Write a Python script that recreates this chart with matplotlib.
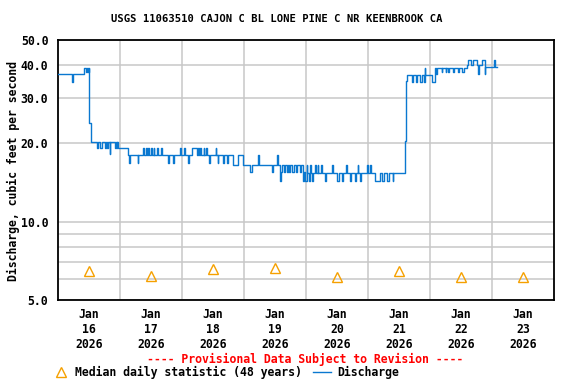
import matplotlib
matplotlib.use("Agg")
import matplotlib.pyplot as plt
import matplotlib.dates as mdates
from matplotlib.lines import Line2D
from matplotlib.ticker import FixedLocator, NullFormatter, FixedFormatter
import numpy as np
import pandas as pd

# ---- data ----
start = pd.Timestamp("2026-01-16 00:00")
# discharge step changes: hours after start, value (cfs)
q_hours = [0, 5.4, 5.7, 10.0, 10.9, 11.2, 11.6, 11.9, 12.0, 12.7, 15.2, 15.5, 16.3, 16.9,
           18.2, 18.5, 19.0, 19.4, 20.0, 20.3, 22.0, 22.3, 22.8, 23.0, 23.3,
           27.1, 27.6, 27.9, 30.8, 31.1, 33.0, 33.3, 34.0, 34.3, 34.8, 35.3, 36.0, 36.5,
           37.0, 37.3, 38.3, 38.8, 39.7, 40.1, 42.6, 42.9, 44.5, 44.8, 47.4, 47.8, 48.6,
           49.0, 50.3, 50.6, 51.7, 53.8, 54.0, 54.6, 55.0, 55.3, 56.4, 56.6, 57.2, 57.5,
           58.5, 58.8, 61.0, 61.3, 61.8, 62.1, 64.0, 64.3, 65.4, 65.7, 67.6, 69.5, 71.6,
           74.5, 75.0, 77.4, 77.7, 83.0, 83.4, 84.8, 85.1, 85.8, 86.2, 86.7, 87.5, 87.8,
           88.6, 89.0, 89.5, 89.8, 90.5, 91.2, 92.3, 92.7, 93.5, 94.0, 95.0, 95.4, 95.8,
           96.2, 96.5, 97.2, 97.5, 98.0, 98.4, 98.8, 99.5, 99.8, 100.5, 100.8, 101.7,
           102.0, 103.5, 103.8, 106.0, 106.3, 108.0, 108.8, 109.8, 110.3, 111.5, 111.8,
           113.0, 113.3, 114.8, 115.2, 116.0, 116.3, 117.0, 117.3, 119.5, 120.0, 120.8,
           121.1, 122.7, 124.6, 125.5, 126.0, 127.3, 128.2, 129.5, 129.8,
           134.3, 134.7, 135.2, 137.0, 137.4, 138.4, 138.8, 140.3, 140.8, 141.6, 141.9,
           142.2, 144.8, 146.0, 146.4, 146.8, 148.5, 148.8, 150.0, 150.3, 151.0, 151.4,
           152.8, 153.3, 155.0, 155.4, 156.4, 157.0, 158.2, 158.8, 159.7, 160.7, 162.0,
           162.5, 162.8, 164.0, 165.1, 165.4, 168.8, 169.0, 169.9]
q_values = [37.0, 34.5, 37.0, 39.0, 37.8, 39.0, 37.8, 39.0, 24.0, 20.3, 19.2, 20.3, 19.2, 20.3,
            19.2, 20.3, 19.2, 20.3, 18.2, 20.3, 19.2, 20.3, 19.2, 20.3, 19.2,
            18.1, 16.8, 18.1, 16.8, 18.1, 19.2, 18.1, 19.2, 18.1, 19.2, 18.1, 19.2, 18.1,
            19.2, 18.1, 19.2, 18.1, 19.2, 18.1, 16.8, 18.1, 16.8, 18.1, 19.2, 18.1, 19.2,
            18.1, 16.8, 18.1, 19.2, 18.1, 19.2, 18.1, 19.2, 18.1, 19.2, 18.1, 19.2, 18.1,
            16.8, 18.1, 19.2, 18.1, 16.8, 18.1, 16.8, 18.1, 16.8, 18.1, 16.6, 18.1, 16.6,
            15.6, 16.6, 18.1, 16.6, 15.6, 16.6, 18.1, 16.6, 14.3, 15.6, 16.6, 15.6, 16.6,
            15.6, 16.6, 15.6, 16.6, 15.6, 16.6, 15.6, 16.6, 15.6, 16.6, 14.3, 15.6, 14.3,
            16.6, 15.4, 14.3, 16.6, 15.4, 14.3, 15.4, 16.6, 15.4, 16.6, 15.4, 16.6,
            15.4, 14.3, 15.4, 16.6, 15.4, 14.3, 15.4, 14.3, 15.4, 16.6, 15.4,
            14.3, 15.4, 14.3, 15.4, 16.6, 15.4, 14.3, 15.4, 16.6, 15.4, 16.6,
            15.4, 14.3, 15.4, 14.3, 15.4, 14.3, 15.4, 14.3, 15.4,
            20.5, 34.8, 36.8, 34.6, 36.8, 34.6, 36.8, 34.6, 36.8, 34.6, 39.0,
            36.8, 34.6, 39.0, 37.0, 39.0, 37.8, 39.0, 37.8, 39.0, 37.8, 39.0,
            37.8, 39.0, 37.8, 39.0, 37.8, 39.0, 40.2, 41.7, 40.2, 41.7, 40.2,
            37.0, 40.2, 41.7, 37.0, 39.2, 41.7, 39.2, 39.2]

median_days = ["2026-01-16 12:00", "2026-01-17 12:00", "2026-01-18 12:00", "2026-01-19 12:00",
               "2026-01-20 12:00", "2026-01-21 12:00", "2026-01-22 12:00", "2026-01-23 12:00"]
median_values = [6.45, 6.2, 6.6, 6.65, 6.15, 6.45, 6.15, 6.15]

y_tick_values = [5, 10, 20, 30, 40, 50]
y_tick_labels = ["5.0", "10.0", "20.0", "30.0", "40.0", "50.0"]
y_minor_grid = [6, 7, 8, 9]
x_tick_labels = ["Jan\n16\n2026", "Jan\n17\n2026", "Jan\n18\n2026", "Jan\n19\n2026",
                 "Jan\n20\n2026", "Jan\n21\n2026", "Jan\n22\n2026", "Jan\n23\n2026"]

# ---- figure ----
FONT = "DejaVu Sans Mono"
fig = plt.figure(figsize=(5.76, 3.84), dpi=100)
ax = fig.add_axes([58/576, 1-300/384, (554-58)/576, (300-40)/384])

times = start + pd.to_timedelta(q_hours, unit="h")
ax.plot(times, q_values, drawstyle="steps-post", color="#0a78d0", lw=1.0, zorder=3)

mt = pd.to_datetime(median_days)
ax.plot(mt, median_values, linestyle="none", marker="^", mfc="none", mec="#f5a000",
        ms=7.5, mew=1.0, zorder=4)

ax.set_yscale("log")
ax.set_ylim(5, 50)
ax.set_xlim(start, start + pd.Timedelta(days=8))

ax.yaxis.set_major_locator(FixedLocator(y_tick_values))
ax.yaxis.set_major_formatter(FixedFormatter(y_tick_labels))
ax.yaxis.set_minor_locator(FixedLocator(y_minor_grid))
ax.yaxis.set_minor_formatter(NullFormatter())

noon = pd.to_datetime(median_days)
mids = [start + pd.Timedelta(days=d) for d in range(1, 8)]
ax.xaxis.set_major_locator(FixedLocator(mdates.date2num(noon)))
ax.xaxis.set_major_formatter(FixedFormatter(x_tick_labels))
ax.xaxis.set_minor_locator(FixedLocator(mdates.date2num(mids)))

gc = "#c8c8c8"
ax.grid(False)
ax.yaxis.grid(True, which="both", color=gc, lw=1.1)
ax.xaxis.grid(True, which="minor", color=gc, lw=1.1)
ax.set_axisbelow(True)

ax.tick_params(axis="both", which="both", length=0)
ax.tick_params(axis="y", pad=7)
ax.tick_params(axis="x", pad=6)
for lab in ax.get_yticklabels() + ax.get_xticklabels():
    lab.set_fontfamily(FONT)
    lab.set_fontweight("bold")
    lab.set_fontsize(8.3)
for lab in ax.get_xticklabels():
    lab.set_linespacing(1.2)

for s in ax.spines.values():
    s.set_color("black")
    s.set_linewidth(1.3)

fig.text(13/576, 1-171/384, "Discharge, cubic feet per second", rotation=90,
         ha="center", va="center", fontfamily=FONT, fontweight="bold", fontsize=8.3)

fig.text(277/576, 1-19/384, "USGS 11063510 CAJON C BL LONE PINE C NR KEENBROOK CA",
         ha="center", va="center", fontfamily=FONT, fontweight="bold", fontsize=7.6)

fig.text(305/576, 1-359/384, "---- Provisional Data Subject to Revision ----",
         ha="center", va="center", color="red", fontfamily=FONT, fontweight="bold",
         fontsize=8.3)

# legend
fig.add_artist(Line2D([60.5/576], [1-371.5/384], transform=fig.transFigure, marker="^",
                      mfc="none", mec="#f5a000", ms=7.5, mew=1.0, linestyle="none"))
fig.text(75/576, 1-372.5/384, "Median daily statistic (48 years)", ha="left", va="center",
         fontfamily=FONT, fontweight="bold", fontsize=8.3)
fig.add_artist(Line2D([313/576, 331/576], [1-371.7/384, 1-371.7/384],
                      transform=fig.transFigure, color="#0a78d0", lw=1.0))
fig.text(337/576, 1-372.5/384, "Discharge", ha="left", va="center",
         fontfamily=FONT, fontweight="bold", fontsize=8.3)

fig.savefig("out.png", dpi=100)
